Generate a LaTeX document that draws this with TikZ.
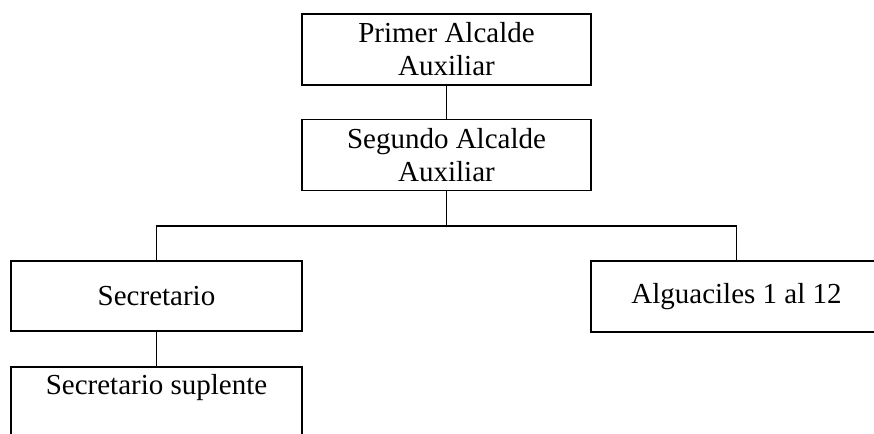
\documentclass[tikz,border=0pt]{standalone}
\usepackage{fontspec}
\setmainfont{Liberation Serif}
\begin{document}
\begin{tikzpicture}[x=1pt,y=-1pt,
  box/.style={draw, line width=1.4pt, minimum width=289pt, minimum height=71pt, inner sep=0pt, align=center, font=\fontsize{29}{33}\selectfont},
  conn/.style={line width=1.4pt},
  lbl/.style={inner sep=0pt, font=\fontsize{29}{33}\selectfont}]
\useasboundingbox (0,0) rectangle (874,433);
\clip (0,0) rectangle (874,433);
\node[box] (p1) at (446.5,49.5) {Primer Alcalde\\Auxiliar};
\node[box] (p2) at (446.5,155) {Segundo Alcalde\\Auxiliar};
\node[box, minimum width=291pt, minimum height=70pt] (sec) at (156.5,296) {Secretario};
\node[box, minimum width=291pt, minimum height=71pt] (alg) at (736.5,296.5) {Alguaciles 1 al 12};
\node[box, minimum width=291pt, minimum height=100pt] (sup) at (156.5,417) {};
\node[lbl, anchor=base] (suptxt) at (156.5,394) {Secretario suplente};
\coordinate (hm) at (446.5,226);
\coordinate (hl) at (156.5,226);
\coordinate (hr) at (736.5,226);
\draw[conn] (p1.south) -- (p2.north);
\draw[conn] (p2.south) -- (hm);
\draw[conn] (sec.north) -- (hl) -- (hr) -- (alg.north);
\draw[conn] (sec.south) -- (sup.north);
\end{tikzpicture}
\end{document}
